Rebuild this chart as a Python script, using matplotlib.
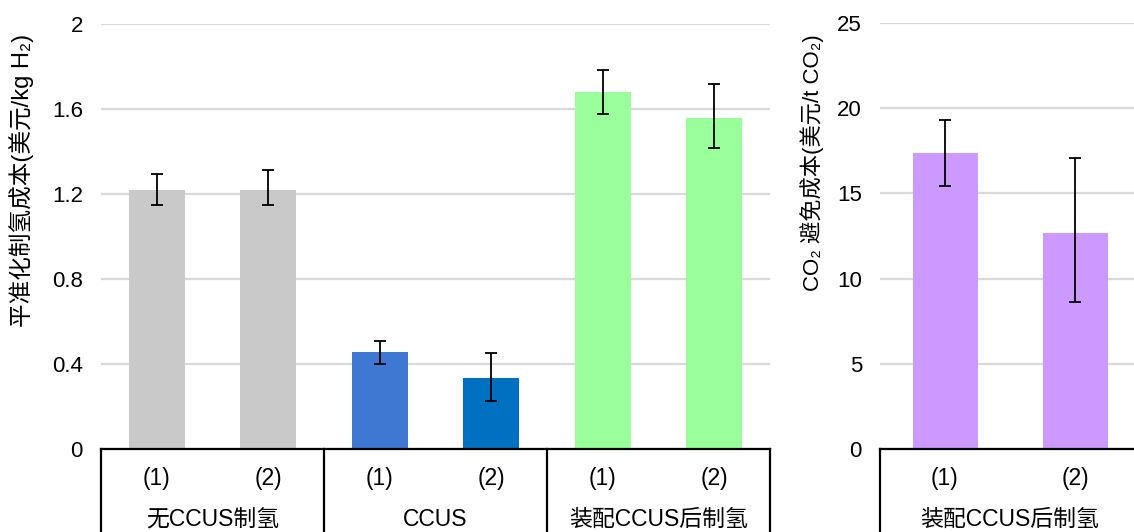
import matplotlib
matplotlib.use("Agg")
import matplotlib.pyplot as plt
import numpy as np

plt.rcParams['font.family'] = ['Liberation Sans', 'Noto Sans CJK SC', 'DejaVu Sans']

# ---- data ----
sub_labels = ["(1)", "(2)", "(1)", "(2)", "(1)", "(2)"]
group_labels = ["无CCUS制氢", "CCUS", "装配CCUS后制氢"]
lcoh = [1.22, 1.22, 0.455, 0.333, 1.68, 1.56]
lcoh_hi = [1.296, 1.315, 0.51, 0.45, 1.785, 1.72]
lcoh_lo = [1.148, 1.148, 0.40, 0.224, 1.575, 1.415]
bar_colors = ["#C9C9C9", "#C9C9C9", "#3E78D3", "#0070C0", "#9AFF9A", "#9AFF9A"]

co2_labels = ["(1)", "(2)"]
co2_group = "装配CCUS后制氢"
co2_cost = [17.4, 12.7]
co2_hi = [19.3, 17.1]
co2_lo = [15.45, 8.65]
co2_color = "#CC99FF"

W, H = 1134, 532
fig = plt.figure(figsize=(W / 100, H / 100), dpi=100)

def px_axes(x0, y_top, x1, y_bot):
    return fig.add_axes([x0 / W, (H - y_bot) / H, (x1 - x0) / W, (y_bot - y_top) / H])

tick_fs = 16
cat_fs = 16.5

def style(ax, ymax, yticks, yticklabels):
    ax.set_ylim(0, ymax)
    ax.set_yticks(yticks)
    ax.set_yticklabels(yticklabels, fontsize=tick_fs)
    ax.tick_params(axis='y', length=0, pad=13)
    ax.tick_params(axis='x', length=0, labelbottom=False)
    for s in ['left', 'right', 'top']:
        ax.spines[s].set_visible(False)
    ax.spines['bottom'].set_linewidth(1.6)
    ax.spines['bottom'].set_color('black')
    ax.grid(axis='y', color='#D9D9D9', linewidth=1.6)
    ax.set_axisbelow(True)

ax1 = px_axes(101, 24, 770, 449)
x = np.arange(len(lcoh))
yerr = [np.array(lcoh) - np.array(lcoh_lo), np.array(lcoh_hi) - np.array(lcoh)]
ax1.bar(x, lcoh, width=0.5, color=bar_colors, zorder=2)
ax1.errorbar(x, lcoh, yerr=yerr, fmt='none', ecolor='black', elinewidth=1.3,
             capsize=4.5, capthick=1.3, zorder=3)
ax1.set_xlim(-0.5, len(lcoh) - 0.5)
style(ax1, 2, [0, 0.4, 0.8, 1.2, 1.6, 2], ["0", "0.4", "0.8", "1.2", "1.6", "2"])
tr1 = ax1.get_xaxis_transform()
for b in [-0.5, 1.5, 3.5, 5.5]:
    ax1.plot([b, b], [0, -0.3], transform=tr1, color='black', lw=1.6, clip_on=False)
for i, t in enumerate(sub_labels):
    ax1.text(x[i], -29 / 425, t, transform=tr1, ha='center', va='center', fontsize=cat_fs)
for g, t in enumerate(group_labels):
    ax1.text(2 * g + 0.5, -70 / 425, t, transform=tr1, ha='center', va='center', fontsize=cat_fs)
ax1.set_ylabel("平准化制氢成本(美元/kg H₂)", fontsize=17)
ax1.yaxis.set_label_coords((34 - 101) / 669, (449 - 180) / 425)

ax2 = px_axes(880, 23, 1140, 449)
x2 = np.arange(len(co2_cost))
yerr2 = [np.array(co2_cost) - np.array(co2_lo), np.array(co2_hi) - np.array(co2_cost)]
ax2.bar(x2, co2_cost, width=0.5, color=co2_color, zorder=2)
ax2.errorbar(x2, co2_cost, yerr=yerr2, fmt='none', ecolor='black', elinewidth=1.3,
             capsize=4.5, capthick=1.3, zorder=3)
ax2.set_xlim(-0.5, 1.5)
style(ax2, 25, [0, 5, 10, 15, 20, 25], ["0", "5", "10", "15", "20", "25"])
tr2 = ax2.get_xaxis_transform()
for b in [-0.5, 1.5]:
    ax2.plot([b, b], [0, -0.3], transform=tr2, color='black', lw=1.6, clip_on=False)
for i, t in enumerate(co2_labels):
    ax2.text(x2[i], -29 / 426, t, transform=tr2, ha='center', va='center', fontsize=cat_fs)
ax2.text(0.5, -70 / 426, co2_group, transform=tr2, ha='center', va='center', fontsize=cat_fs)
ax2.set_ylabel("CO₂ 避免成本(美元/t CO₂)", fontsize=16)
ax2.yaxis.set_label_coords((824 - 880) / 260, (449 - 163) / 426)

fig.savefig("out.png", dpi=100)
